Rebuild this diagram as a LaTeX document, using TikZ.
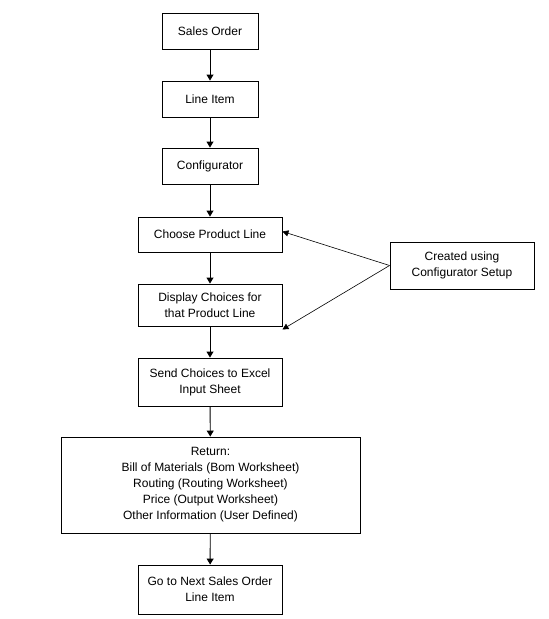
\documentclass[tikz,border=0pt]{standalone}
\usepackage{fontspec}
\setmainfont{Liberation Sans}
\usetikzlibrary{arrows.meta}
\begin{document}
\begin{tikzpicture}[x=1pt,y=-1pt,
  box/.style={draw,line width=0.9pt,align=center,inner sep=0pt,font=\fontsize{12}{16}\selectfont},
  arr/.style={line width=0.9pt,-{Triangle[width=7pt,length=6pt]}},
  thin arr/.style={line width=0.6pt,-{Triangle[width=6pt,length=6pt]}}]
\useasboundingbox (0,0) rectangle (549,619);
\node[box,minimum width=96pt,minimum height=36pt] (so) at (210,31) {Sales Order};
\node[box,minimum width=96pt,minimum height=36pt] (li) at (210,99) {Line Item};
\node[box,minimum width=96pt,minimum height=36pt] (cf) at (210,166) {Configurator};
\node[box,minimum width=144pt,minimum height=35pt] (cp) at (210,234.5) {Choose Product Line};
\node[box,minimum width=144pt,minimum height=42pt] (dc) at (210,305) {Display Choices for\\that Product Line};
\node[box,minimum width=144pt,minimum height=47pt] (cu) at (462,265.5) {Created using\\Configurator Setup};
\node[box,minimum width=144pt,minimum height=48pt] (sc) at (210,382) {Send Choices to Excel\\Input Sheet};
\node[box,minimum width=299pt,minimum height=96pt] (rt) at (210.5,485) {Return:\\Bill of Materials (Bom Worksheet)\\Routing (Routing Worksheet)\\Price (Output Worksheet)\\Other Information (User Defined)};
\node[box,minimum width=144pt,minimum height=49pt] (gn) at (210,589.5) {Go to Next Sales Order\\Line Item};
\coordinate (src) at (388,272);
\draw[arr] (so) -- (li);
\draw[arr] (li) -- (cf);
\draw[arr] (cf) -- (cp);
\draw[arr] (cp) -- (dc);
\draw[arr] (dc) -- (sc);
\draw[arr] (sc) -- (rt);
\draw[arr] (rt) -- (gn);
\draw[thin arr] (cu.west) -- ([yshift=3pt]cp.east);
\draw[thin arr] (cu.west) -- ([yshift=-3pt]dc.south east);
\end{tikzpicture}
\end{document}
